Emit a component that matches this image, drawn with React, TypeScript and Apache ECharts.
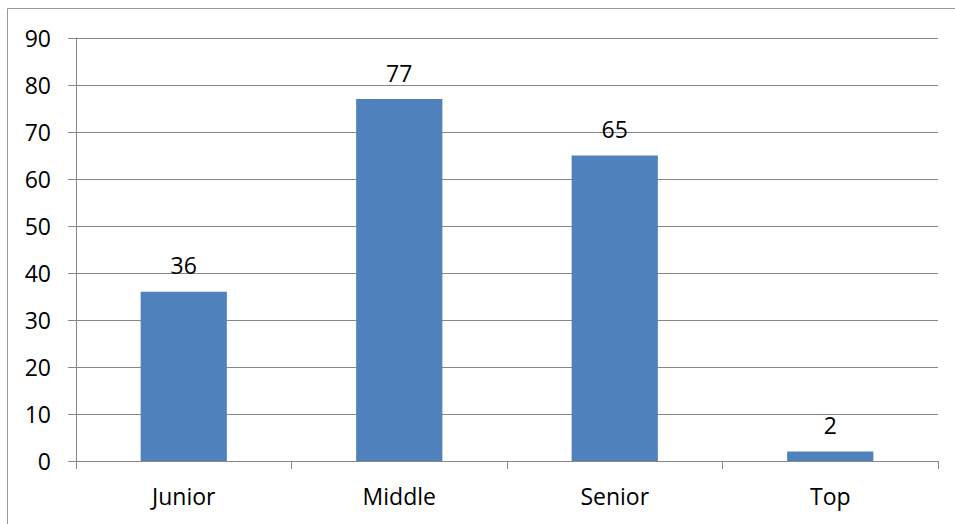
import React, { useEffect, useRef } from "react";
import * as echarts from "echarts";

const categories = ["Junior", "Middle", "Senior", "Top"];
const values = [36, 77, 65, 2];
const yMin = 0;
const yMax = 90;
const yStep = 10;

const FONT = "'Open Sans', 'DejaVu Sans', sans-serif";
const LINE = "#878787";

export default function App() {
  const ref = useRef<HTMLDivElement>(null);

  useEffect(() => {
    if (!ref.current) return;
    const chart = echarts.init(ref.current, undefined, { renderer: "svg" });
    chart.setOption({
      animation: false,
      backgroundColor: "#ffffff",
      grid: { left: 76, right: 17, top: 38, bottom: 63, containLabel: false },
      graphic: [
        {
          type: "rect",
          shape: { x: 7.5, y: 8.5, width: 1000, height: 600 },
          style: { fill: "none", stroke: "#9a9a9a", lineWidth: 1 },
          silent: true,
        },
      ],
      xAxis: {
        type: "category",
        data: categories,
        boundaryGap: true,
        axisLine: { show: true, lineStyle: { color: LINE, width: 1 } },
        axisTick: { show: true, length: 8, alignWithLabel: false, lineStyle: { color: LINE } },
        axisLabel: { color: "#000", fontFamily: FONT, fontSize: 23, margin: 23 },
        splitLine: { show: false },
      },
      yAxis: {
        type: "value",
        min: yMin,
        max: yMax,
        interval: yStep,
        axisLine: { show: true, lineStyle: { color: LINE, width: 1 } },
        axisTick: { show: true, length: 8, lineStyle: { color: LINE } },
        axisLabel: { color: "#000", fontFamily: FONT, fontSize: 23, margin: 25 },
        splitLine: { show: true, lineStyle: { color: LINE, width: 1 } },
      },
      series: [
        {
          type: "bar",
          data: values,
          barWidth: "40%",
          itemStyle: { color: "#4f81bd" },
          label: {
            show: true,
            position: "top",
            distance: 15,
            color: "#000",
            fontFamily: FONT,
            fontSize: 23,
          },
        },
      ],
    });
    return () => chart.dispose();
  }, []);

  return (
    <div
      ref={ref}
      style={{ position: "absolute", left: 0, top: 0, width: 955, height: 524 }}
    />
  );
}
